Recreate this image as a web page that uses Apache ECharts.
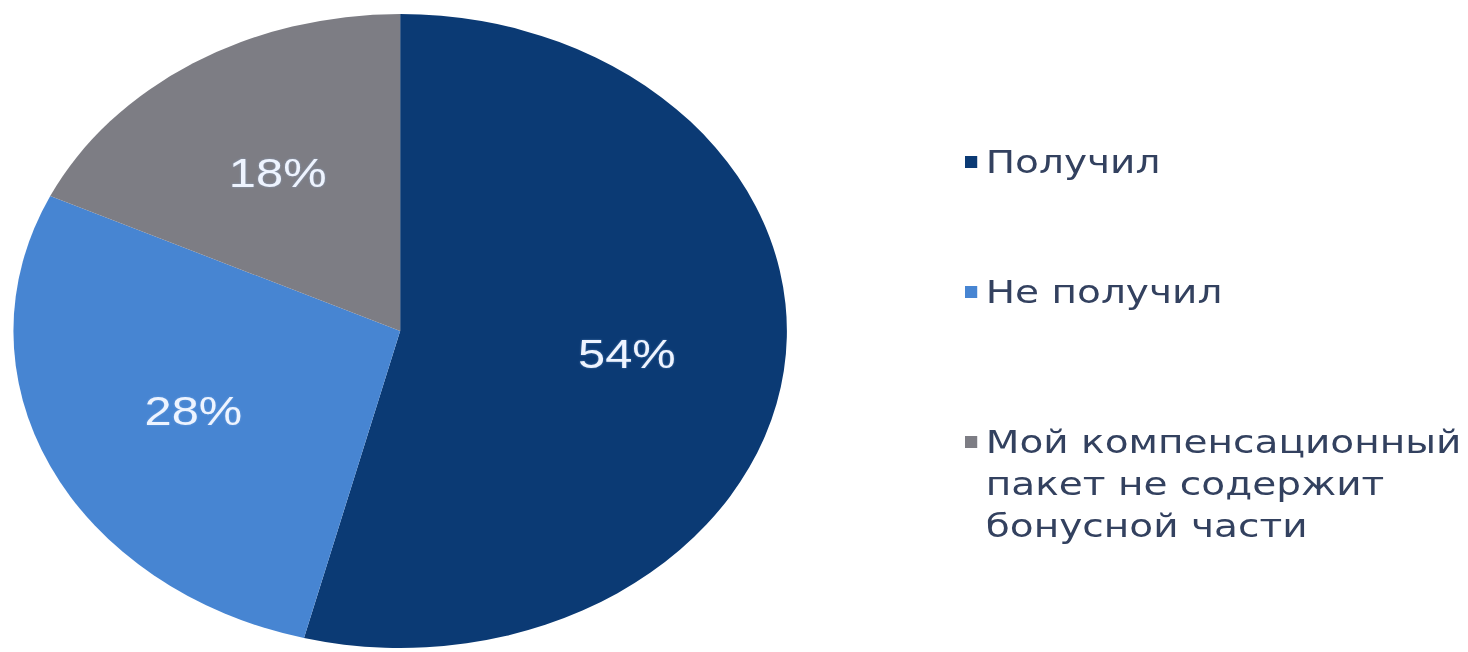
<!DOCTYPE html>
<html>
<head>
<meta charset="utf-8">
<script src="https://cdn.jsdelivr.net/npm/echarts@6/dist/echarts.min.js"></script>
<style>
  html, body { margin: 0; padding: 0; background: #ffffff; overflow: hidden; }
  #chart { width: 1203px; height: 652px; transform: scaleX(1.22); transform-origin: 0 0; }
</style>
</head>
<body>
<div id="chart"></div>
<script>
// Data
const categories = ['Получил', 'Не получил', 'Мой компенсационный пакет не содержит бонусной части'];
const shares = [54, 28, 18];
const legendLabels = ['Получил', 'Не получил', 'Мой компенсационный\nпакет не содержит\nбонусной части'];
const sliceColors = ['#0b3a74', '#4785d2', '#7d7d84'];

// Layout (unscaled; the page stretches the chart horizontally like the reference)
const CX = 328, CY = 331, R = 317;

const chart = echarts.init(document.getElementById('chart'), null, { renderer: 'svg' });

const legendTops = [141, 271, 337];
const legends = categories.map((name, i) => ({
  data: [name],
  orient: 'vertical',
  left: 791,
  top: legendTops[i],
  padding: 0,
  icon: 'rect',
  itemWidth: 10,
  itemHeight: 12,
  selectedMode: false,
  formatter: n => (i === 2 ? '\n\n' : '') + legendLabels[categories.indexOf(n)],
  textStyle: {
    fontFamily: '"DejaVu Sans", Verdana, sans-serif',
    fontSize: 32,
    lineHeight: 42,
    color: '#33415f',
    padding: [0, 0, 0, 2]
  }
}));

chart.setOption({
  animation: false,
  color: sliceColors,
  legend: legends,
  series: [{
    type: 'pie',
    center: [CX, CY],
    radius: [0, R],
    startAngle: 90,
    clockwise: true,
    avoidLabelOverlap: false,
    data: categories.map((name, i) => ({ name, value: shares[i] })),
    itemStyle: { borderWidth: 0 },
    emphasis: { disabled: true },
    label: {
      show: true,
      position: 'inside',
      formatter: '{c}%',
      fontFamily: '"Liberation Sans", Arial, sans-serif',
      fontSize: 40,
      color: '#eef4ff',
      textShadowColor: 'rgba(150,190,240,0.45)',
      textShadowBlur: 2
    },
    labelLine: { show: false },
    labelLayout: function (p) {
      const r = p.labelRect;
      const lx = r.x + r.width / 2, ly = r.y + r.height / 2;
      return { dx: (lx - CX) * 0.16, dy: (ly - CY) * 0.16 };
    }
  }]
});
</script>
</body>
</html>
